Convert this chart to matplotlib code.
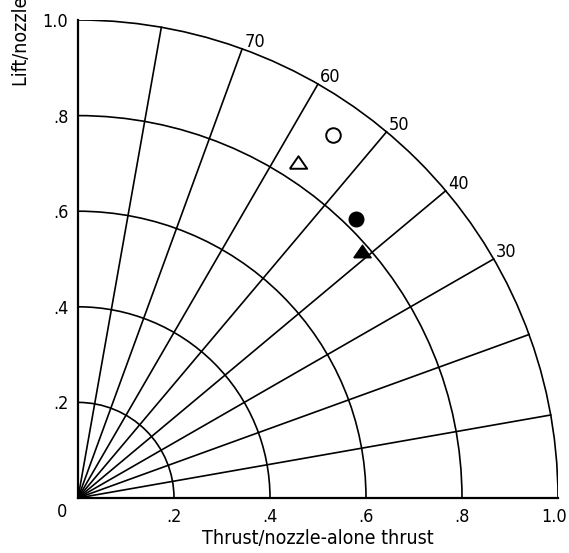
import numpy as np
import matplotlib.pyplot as plt
from matplotlib.patches import Arc
from matplotlib.transforms import offset_copy, ScaledTranslation

plt.rcParams['font.family'] = ['DejaVu Sans']
plt.rcParams['font.stretch'] = 'condensed'

# polar grid: resultant-force arcs and turning-angle rays
radii = [0.2, 0.4, 0.6, 0.8, 1.0]
ray_angles = [10, 20, 30, 40, 50, 60, 70, 80]
labelled_angles = [30, 40, 50, 60, 70]

# measured points (thrust ratio, lift ratio)
open_circle = (0.531, 0.759)
open_triangle = (0.458, 0.703)
solid_circle = (0.579, 0.584)
solid_triangle = (0.592, 0.517)

tick_vals = [0.2, 0.4, 0.6, 0.8, 1.0]
tick_labels = ['.2', '.4', '.6', '.8', '1.0']

fig = plt.figure(figsize=(5.69, 5.53), dpi=100)
ax = fig.add_axes([78 / 569, 55 / 553, 480 / 569, 478 / 553])
ax.set_xlim(0, 1)
ax.set_ylim(0, 1)

lw = 1.2
for r in radii:
    ax.add_patch(Arc((0, 0), 2 * r, 2 * r, theta1=0, theta2=90,
                     color='black', lw=lw))
for a in ray_angles:
    t = np.radians(a)
    ax.plot([0, np.cos(t)], [0, np.sin(t)], color='black', lw=lw)

for a in labelled_angles:
    t = np.radians(a)
    tr = offset_copy(ax.transData, fig=fig, x=2, y=-2, units='dots')
    ax.text(np.cos(t), np.sin(t), str(a), transform=tr,
            ha='left', va='bottom', fontsize=13)

tri = [(-1, -0.72), (1, -0.72), (0, 0.72), (-1, -0.72)]
ax.plot(*open_circle, marker='o', ms=10.5, mfc='white', mec='black',
        mew=1.4, clip_on=False)
ax.plot(*open_triangle, marker=tri, ms=12.5, mfc='white', mec='black',
        mew=1.4, clip_on=False)
ax.plot(*solid_circle, marker='o', ms=10.5, mfc='black', mec='black',
        clip_on=False)
ax.plot(*solid_triangle, marker=tri, ms=12.5, mfc='black', mec='black',
        clip_on=False)

for side in ['top', 'right']:
    ax.spines[side].set_visible(False)
for side in ['left', 'bottom']:
    ax.spines[side].set_linewidth(1.6)

ax.set_xticks(tick_vals)
ax.set_xticklabels(tick_labels)
ax.set_yticks(tick_vals)
ax.set_yticklabels(tick_labels)
ax.tick_params(length=0, labelsize=13, pad=7)

# keep the last x label inside the canvas
last = ax.get_xticklabels()[-1]
last.set_transform(last.get_transform()
                   + ScaledTranslation(-4 / 100, 0, fig.dpi_scale_trans))

corner = offset_copy(ax.transData, fig=fig, x=-16, y=-14, units='dots')
ax.text(0, 0, '0', transform=corner, ha='center', va='center', fontsize=13)

ax.set_xlabel('Thrust/nozzle-alone thrust', fontsize=14, labelpad=2)
fig.text(22 / 569, 1 - 86 / 553, 'Lift/nozzle-alone thrust', rotation=90,
         ha='center', va='bottom', fontsize=14)

fig.savefig('out.png', dpi=100)
